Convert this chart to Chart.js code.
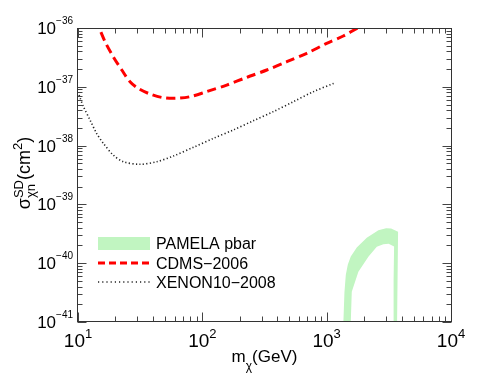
<!DOCTYPE html>
<html><head><meta charset="utf-8">
<script src="https://cdn.jsdelivr.net/npm/chart.js@4"></script>
<style>html,body{margin:0;padding:0;background:#fff;}canvas{display:block;}</style>
</head><body>
<canvas id="c" width="498" height="375"></canvas>
<script>
// ---- axis ranges / ticks ----
const xMin = 10, xMax = 1e4;
const yMin = 1e-41, yMax = 1e-36;
const xTickExps = [1, 2, 3, 4];
const yTickExps = [-41, -40, -39, -38, -37, -36];
const minorMultipliers = [2, 3, 4, 5, 6, 7, 8, 9];

const seriesLabels = ['PAMELA pbar', 'CDMS\u22122006', 'XENON10\u22122008'];
const xTitle = ['m', '\u03c7', '(GeV)'];
const yTitle = ['\u03c3', 'SD', '\u03c7n', '(cm', '2', ')'];

// ---- CDMS-2006 (GeV, cm^2) ----
const cdmsMass  = [13.8, 14.8, 16.5, 19.2, 22.5, 26.2, 30.5, 37.9, 48.5, 62.2, 79.6, 108, 157, 228, 330, 478, 692, 1000, 1360, 1770, 2140];
const cdmsSigma = [1.4e-36, 1.0e-36, 5.85e-37, 3.25e-37, 1.93e-37, 1.22e-37, 9.4e-38, 7.55e-38, 6.53e-38, 6.37e-38, 6.79e-38, 8.26e-38, 1.07e-37, 1.45e-37, 1.93e-37, 2.67e-37, 3.71e-37, 5.48e-37, 7.31e-37, 1.0e-36, 1.26e-36];

// ---- XENON10-2008 ----
const xenonMass  = [10.2, 11.0, 12.5, 14.1, 16.0, 19.2, 23.1, 31.6, 43.0, 58.5, 84.7, 123, 177, 257, 372, 540, 782, 1146];
const xenonSigma = [7.26e-38, 4.71e-38, 2.72e-38, 1.62e-38, 1.09e-38, 6.92e-39, 5.32e-39, 4.81e-39, 5.32e-39, 6.65e-39, 9.35e-39, 1.33e-38, 1.84e-38, 2.65e-38, 3.78e-38, 5.58e-38, 8.26e-38, 1.15e-37];

// ---- PAMELA pbar region (closed contour) ----
const pamelaMass  = [1363, 1390, 1425, 1480, 1563, 1747, 2102, 2606, 3006, 3297, 3753, 3684,
                     3441, 3454, 3486, 3148, 2859, 2530, 2165, 1799, 1592, 1563];
const pamelaSigma = [1e-41, 3.2e-41, 6.3e-41, 9.5e-41, 1.3e-40, 1.85e-40, 2.7e-40, 3.62e-40, 3.93e-40, 3.89e-40, 3.44e-40, 1e-41,
                     1e-41, 5.18e-41, 1.92e-40, 2.14e-40, 2.10e-40, 1.91e-40, 1.29e-40, 7.16e-41, 3.27e-41, 1e-41];

const toXY = (xs, ys) => xs.map((x, i) => ({x: x, y: ys[i]}));

const FONT = '"Liberation Sans", Arial, Helvetica, sans-serif';
const font = (s) => s + 'px ' + FONT;

const framePlugin = {
  id: 'frame',
  afterDraw(chart) {
    const ctx = chart.ctx, a = chart.chartArea;
    const xs = chart.scales.x, ys = chart.scales.y;
    ctx.save();
    // ticks
    ctx.strokeStyle = '#444';
    ctx.lineWidth = 1;
    ctx.beginPath();
    const L = Math.round(a.left) - 0.5, R = Math.round(a.right) + 0.5;
    const T = Math.round(a.top) + 0.5, B = Math.round(a.bottom) - 0.5;
    const xTick = (v, len) => {
      const p = Math.round(xs.getPixelForValue(v)) + 0.5;
      if (p < L || p > R) return;
      ctx.moveTo(p, B); ctx.lineTo(p, B - len);
      ctx.moveTo(p, T); ctx.lineTo(p, T + len);
    };
    const yTick = (v, len) => {
      const p = Math.round(ys.getPixelForValue(v)) + 0.5;
      if (p < T - 1 || p > B + 1) return;
      ctx.moveTo(L, p); ctx.lineTo(L + len, p);
      ctx.moveTo(R, p); ctx.lineTo(R - len, p);
    };
    xTickExps.forEach((e, i) => {
      xTick(Math.pow(10, e), 9);
      if (i < xTickExps.length - 1) minorMultipliers.forEach(m => xTick(m * Math.pow(10, e), 5));
    });
    yTickExps.forEach((e, i) => {
      yTick(Math.pow(10, e), 9);
      if (i < yTickExps.length - 1) minorMultipliers.forEach(m => yTick(m * Math.pow(10, e), 5));
    });
    ctx.stroke();
    // frame
    ctx.strokeStyle = '#333';
    ctx.strokeRect(L, T, R - L, B - T);

    // tick labels
    ctx.fillStyle = '#000';
    ctx.textBaseline = 'alphabetic';
    ctx.textAlign = 'left';
    xTickExps.forEach(e => {
      const p = xs.getPixelForValue(Math.pow(10, e));
      ctx.font = font(19); const w1 = ctx.measureText('10').width;
      const ex = String(e);
      ctx.font = font(13); const w2 = ctx.measureText(ex).width;
      const s = p - (w1 + w2) / 2;
      ctx.font = font(19); ctx.fillText('10', s, 347);
      ctx.font = font(13); ctx.fillText(ex, s + w1, 338);
    });
    yTickExps.forEach(e => {
      const p = ys.getPixelForValue(Math.pow(10, e));
      const ex = (e < 0 ? '\u2212' : '') + Math.abs(e);
      ctx.font = font(10); const w2 = ctx.measureText(ex).width;
      const right = a.left - 5;
      ctx.fillText(ex, right - w2, p - 4);
      ctx.font = font(17); const w1 = ctx.measureText('10').width;
      ctx.fillText('10', right - w2 - w1, p + 6);
    });

    // x title
    {
      ctx.font = font(17); const wm = ctx.measureText(xTitle[0]).width;
      const wg = ctx.measureText(xTitle[2]).width;
      ctx.font = font(12); const wc = ctx.measureText(xTitle[1]).width;
      let s = (a.left + a.right) / 2 - (wm + wc + wg) / 2;
      ctx.font = font(17); ctx.fillText(xTitle[0], s, 362); s += wm;
      ctx.font = font(12); ctx.fillText(xTitle[1], s, 370); s += wc;
      ctx.font = font(17); ctx.fillText(xTitle[2], s, 362);
    }
    // y title (rotated)
    {
      ctx.save();
      ctx.translate(30, 173);
      ctx.rotate(-Math.PI / 2);
      const big = font(18), small = font(13);
      ctx.font = big; const w0 = ctx.measureText(yTitle[0]).width;
      const w3 = ctx.measureText(yTitle[3]).width, w5 = ctx.measureText(yTitle[5]).width;
      ctx.font = small; const w1 = ctx.measureText(yTitle[1]).width, w2 = ctx.measureText(yTitle[2]).width;
      const w4 = ctx.measureText(yTitle[4]).width;
      const wsc = Math.max(w1, w2);
      let s = -(w0 + wsc + w3 + w4 + w5) / 2;
      ctx.font = big; ctx.fillText(yTitle[0], s, 0); s += w0;
      ctx.font = small; ctx.fillText(yTitle[1], s, -7); ctx.fillText(yTitle[2], s, 5); s += wsc;
      ctx.font = big; ctx.fillText(yTitle[3], s, 0); s += w3;
      ctx.font = small; ctx.fillText(yTitle[4], s, -8); s += w4;
      ctx.font = big; ctx.fillText(yTitle[5], s, 0);
      ctx.restore();
    }

    // legend
    const ds = chart.data.datasets;
    const lx0 = 98, lx1 = 150, tx = 156;
    ctx.fillStyle = ds[0].backgroundColor;
    ctx.fillRect(lx0, 237, lx1 - lx0, 13);
    [[1, 263, [7, 4]], [2, 282, [1.2, 3]]].forEach(([i, yy, dash]) => {
      ctx.save();
      ctx.strokeStyle = ds[i].borderColor;
      ctx.lineWidth = ds[i].borderWidth;
      ctx.setLineDash(dash);
      ctx.beginPath(); ctx.moveTo(lx0, yy); ctx.lineTo(lx1, yy); ctx.stroke();
      ctx.restore();
    });
    ctx.fillStyle = '#000';
    ctx.font = font(16);
    ctx.fillText(ds[0].label, tx, 249);
    ctx.fillText(ds[1].label, tx, 269);
    ctx.fillText(ds[2].label, tx, 287.5);
    ctx.restore();
  }
};

new Chart(document.getElementById('c'), {
  type: 'scatter',
  data: {
    datasets: [
      { label: seriesLabels[0], data: toXY(pamelaMass, pamelaSigma), showLine: true, fill: 'shape',
        backgroundColor: '#c1f5c1', borderColor: 'rgba(0,0,0,0)', borderWidth: 0, pointRadius: 0, tension: 0 },
      { label: seriesLabels[1], data: toXY(cdmsMass, cdmsSigma), showLine: true, fill: false,
        borderColor: '#ff0000', borderWidth: 3, borderDash: [9, 5], pointRadius: 0, tension: 0.3 },
      { label: seriesLabels[2], data: toXY(xenonMass, xenonSigma), showLine: true, fill: false,
        borderColor: '#222222', borderWidth: 1.6, borderDash: [1.2, 2.3], pointRadius: 0, tension: 0.3 }
    ]
  },
  options: {
    responsive: false, animation: false, devicePixelRatio: 1,
    layout: { padding: { left: 78, right: 47, top: 28, bottom: 53 } },
    plugins: { legend: { display: false }, tooltip: { enabled: false } },
    scales: {
      x: { type: 'logarithmic', display: false, min: xMin, max: xMax,
           grid: { display: false, drawTicks: false }, border: { display: false }, ticks: { display: false } },
      y: { type: 'logarithmic', display: false, min: yMin, max: yMax,
           grid: { display: false, drawTicks: false }, border: { display: false }, ticks: { display: false } }
    }
  },
  plugins: [framePlugin]
});
</script>
</body></html>
